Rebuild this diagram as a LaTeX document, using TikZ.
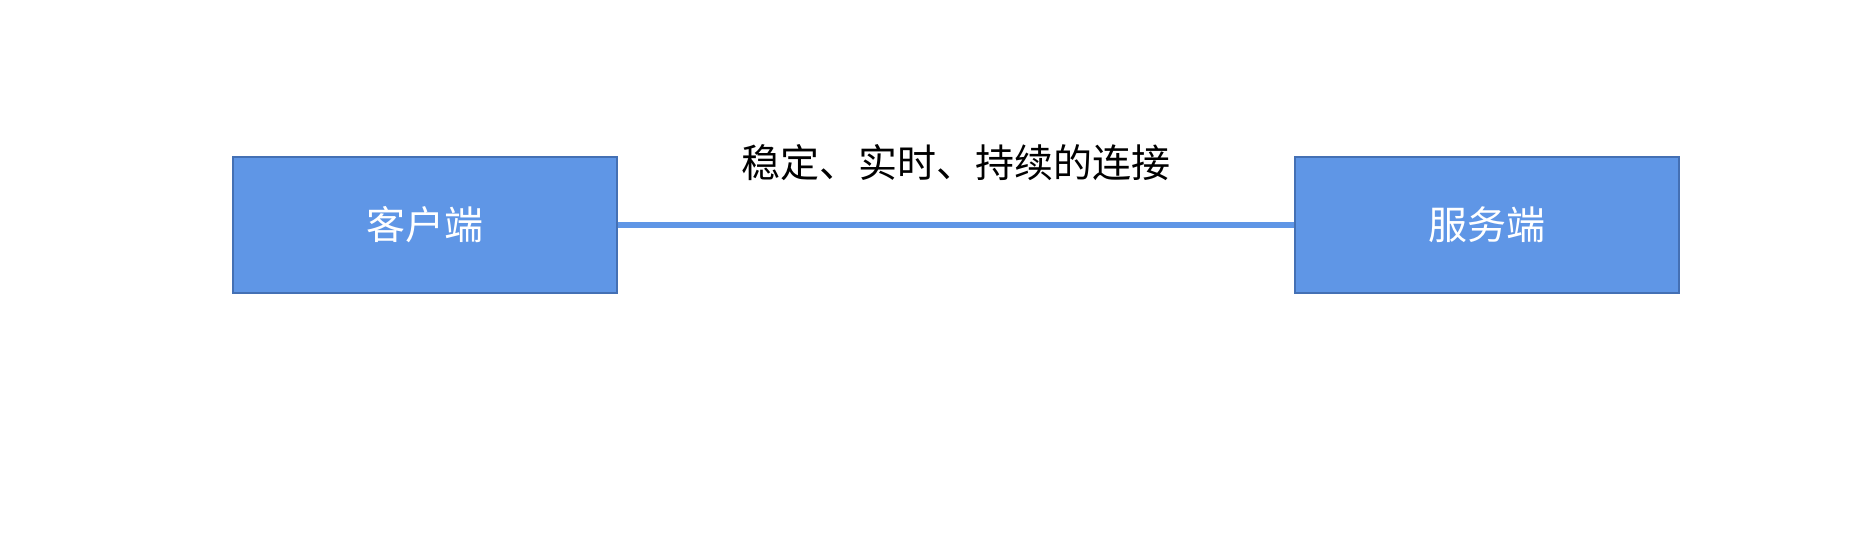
\documentclass[tikz,border=0pt]{standalone}
\usepackage{fontspec}
\newfontfamily\cjk{Noto Sans CJK SC}
\definecolor{boxfill}{HTML}{5F96E6}
\definecolor{boxdraw}{HTML}{4470B4}
\definecolor{linkline}{HTML}{5F96E6}
\begin{document}
\begin{tikzpicture}[x=1pt,y=-1pt,
  endbox/.style={draw=boxdraw,line width=2pt,fill=boxfill,minimum width=384pt,minimum height=136pt,inner sep=0pt,text=white,font=\cjk\fontsize{39}{45}\selectfont},
  linklabel/.style={font=\cjk\fontsize{39}{45}\selectfont,text=black,inner sep=0pt}]
\useasboundingbox (0,0) rectangle (1874,559);
\node[endbox] (client) at (424.5,225) {客户端};
\node[endbox] (server) at (1486.5,225) {服务端};
\draw[linkline,line width=6pt] (client.east) -- (server.west);
\node[linklabel] (label) at (956,163) {稳定、实时、持续的连接};
\end{tikzpicture}
\end{document}
